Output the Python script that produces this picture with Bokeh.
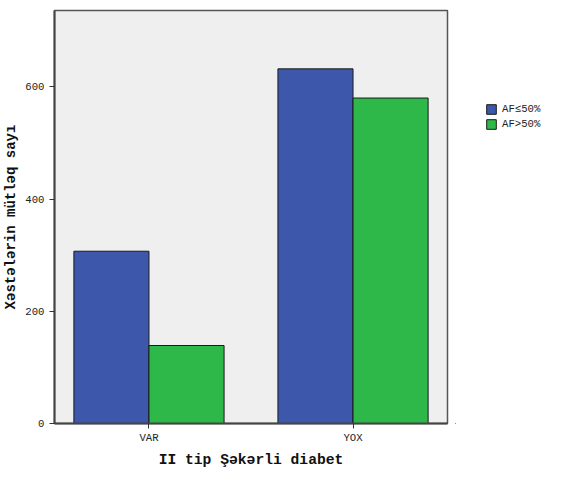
from bokeh.plotting import figure
from bokeh.layouts import row
from bokeh.models import ColumnDataSource, Range1d, FixedTicker, Legend, LegendItem
from bokeh.embed import file_html
from bokeh.resources import INLINE

categories = ["VAR", "YOX"]
series_names = ["AF≤50%", "AF>50%"]
af_le_50 = [307, 632]
af_gt_50 = [139, 580]
y_ticks = [0, 200, 400, 600]

colors = ["#3D58AB", "#2EB84A"]
bar_w = 0.368

idx = list(range(len(categories)))
src = ColumnDataSource(dict(
    x1=[i - bar_w / 2 for i in idx],
    x2=[i + bar_w / 2 for i in idx],
    v1=af_le_50,
    v2=af_gt_50,
))

p = figure(width=455, height=470, output_backend="svg", toolbar_location=None,
           x_range=Range1d(-0.463, 1.463), y_range=Range1d(0, 736),
           min_border_left=54, min_border_top=10, min_border_bottom=40,
           min_border_right=8)

p.background_fill_color = "#efefef"
p.border_fill_color = "white"
p.outline_line_color = "#555555"
p.outline_line_width = 1.5
p.xgrid.visible = False
p.ygrid.visible = False

r1 = p.vbar(x="x1", top="v1", width=bar_w, bottom=0, source=src,
            fill_color=colors[0], line_color="#1a1a1a", line_width=1)
r2 = p.vbar(x="x2", top="v2", width=bar_w, bottom=0, source=src,
            fill_color=colors[1], line_color="#1a1a1a", line_width=1)

font = "Liberation Mono"
for ax in (p.xaxis[0], p.yaxis[0]):
    ax.axis_line_color = "#444444"
    ax.axis_line_width = 2
    ax.major_tick_line_color = "#333333"
    ax.major_tick_in = 0
    ax.major_tick_out = 5
    ax.minor_tick_line_color = None
    ax.major_label_text_font = font
    ax.major_label_text_font_size = "8pt"
    ax.major_label_text_color = "#222222"
    ax.axis_label_text_font = font
    ax.axis_label_text_font_style = "bold"
    ax.axis_label_text_color = "#111111"

p.xaxis.ticker = FixedTicker(ticks=idx)
p.xaxis.major_label_overrides = {i: c for i, c in enumerate(categories)}
p.xaxis.major_label_standoff = 3
p.xaxis.axis_label = "II tip Şəkərli diabet"
p.xaxis.axis_label_text_font_size = "11pt"
p.xaxis.axis_label_standoff = 5

p.yaxis.ticker = FixedTicker(ticks=y_ticks)
p.yaxis.axis_label = "Xəstələrin mütləq sayı"
p.yaxis.axis_label_text_font_size = "10.5pt"
p.yaxis.axis_label_standoff = 3

# legend panel (proxy renderers only carry the legend swatches)
lp = figure(width=100, height=470, output_backend="svg", toolbar_location=None,
            x_range=Range1d(0, 1), y_range=Range1d(0, 1),
            min_border=0, min_border_left=0, min_border_right=0,
            min_border_top=0, min_border_bottom=0)
lp.axis.visible = False
lp.grid.visible = False
lp.outline_line_color = None
lp.background_fill_color = "white"
proxy = ColumnDataSource(dict(x=[-5], top=[-5]))
l1 = lp.vbar(x="x", top="top", width=0.1, source=proxy,
             fill_color=colors[0], line_color="#1a1a1a", line_width=1)
l2 = lp.vbar(x="x", top="top", width=0.1, source=proxy,
             fill_color=colors[1], line_color="#1a1a1a", line_width=1)

legend = Legend(items=[LegendItem(label=series_names[0], renderers=[l1]),
                       LegendItem(label=series_names[1], renderers=[l2])],
                location=(30, 293))
legend.label_text_font = font
legend.label_text_font_size = "8pt"
legend.label_text_color = "#222222"
legend.glyph_width = 12
legend.glyph_height = 12
legend.spacing = 3
legend.padding = 2
legend.margin = 0
legend.label_standoff = 5
legend.border_line_color = None
legend.background_fill_alpha = 0
legend.label_height = 12
lp.add_layout(legend)

layout = row(p, lp)
open("out.html", "w").write(file_html(layout, INLINE))
